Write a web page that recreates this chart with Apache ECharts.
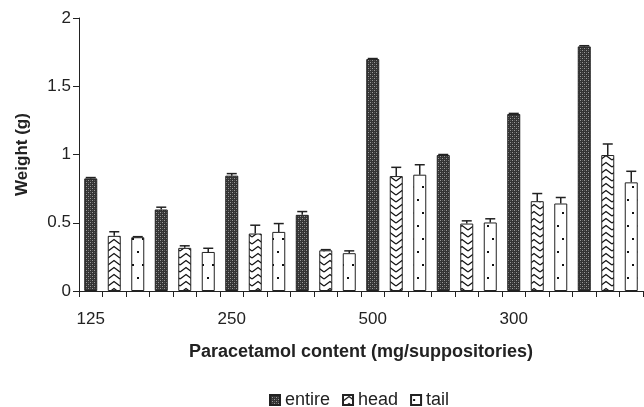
<!DOCTYPE html>
<html lang="en">
<head>
    <meta charset="UTF-8">
    <title>Paracetamol suppositories weight</title>
    <script src="https://cdn.jsdelivr.net/npm/echarts@6/dist/echarts.min.js"></script>
    <style>
        body { margin: 0; background: #fff; }
        #main { width: 644px; height: 407px; }
    </style>
</head>
<body>
    <div id="main"></div>
</body>
<script>
    // 8 groups of entire / head / tail, one category slot per bar
    let tickLabels = ['125', '250', '500', '300'];
    let labelSlots = [0, 6, 12, 18];
    let entire = [0.825, 0.597, 0.845, 0.558, 1.699, 0.996, 1.297, 1.792];
    let head = [0.404, 0.316, 0.421, 0.298, 0.842, 0.494, 0.658, 0.996];
    let tail = [0.394, 0.286, 0.433, 0.277, 0.852, 0.502, 0.641, 0.796];
    let entireErr = [0.006, 0.017, 0.015, 0.024, 0.004, 0.004, 0.004, 0.005];
    let headErr = [0.03, 0.015, 0.061, 0.005, 0.064, 0.02, 0.056, 0.081];
    let tailErr = [0.004, 0.027, 0.061, 0.017, 0.073, 0.027, 0.044, 0.081];

    let slots = entire.length * 3;
    let categories = [];
    for (let i = 0; i < slots; i++) {
        let k = labelSlots.indexOf(i);
        categories.push(k >= 0 ? tickLabels[k] : '');
    }

    // spread a group array over the 24 slots
    function spread(arr, offset) {
        let out = [];
        for (let i = 0; i < slots; i++) out.push('-');
        arr.forEach(function (v, g) { out[g * 3 + offset] = v; });
        return out;
    }

    let errData = [];
    [[entire, entireErr], [head, headErr], [tail, tailErr]].forEach(function (pair, off) {
        pair[0].forEach(function (v, g) {
            errData.push([g * 3 + off, v, v + pair[1][g]]);
        });
    });

    // fill patterns
    function makeCanvas(w, h, draw) {
        let c = document.createElement('canvas');
        c.width = w;
        c.height = h;
        let ctx = c.getContext('2d');
        ctx.fillStyle = '#fff';
        ctx.fillRect(0, 0, w, h);
        draw(ctx);
        return c;
    }
    let entirePat = makeCanvas(4, 4, function (ctx) {
        ctx.fillStyle = '#333';
        ctx.fillRect(0, 0, 4, 4);
        ctx.fillStyle = '#9a9a9a';
        ctx.fillRect(0, 0, 1, 1);
        ctx.fillRect(2, 2, 1, 1);
        ctx.fillStyle = '#5a5a5a';
        ctx.fillRect(2, 0, 1, 1);
        ctx.fillRect(0, 2, 1, 1);
    });
    let headPat = makeCanvas(12, 7, function (ctx) {
        ctx.strokeStyle = '#111';
        ctx.lineWidth = 1.3;
        ctx.beginPath();
        ctx.moveTo(0, 6);
        ctx.lineTo(6, 1.5);
        ctx.lineTo(12, 6);
        ctx.stroke();
    });
    let tailPat = makeCanvas(10, 26, function (ctx) {
        ctx.fillStyle = '#111';
        ctx.fillRect(2, 4, 2, 2);
        ctx.fillRect(7, 17, 2, 2);
    });

    let font = 'Liberation Sans, Arial, sans-serif';

    function barSeries(name, data, pat) {
        return {
            name: name,
            type: 'bar',
            data: data,
            barWidth: 13,
            barGap: '-100%',
            itemStyle: {
                color: { image: pat, repeat: 'repeat' },
                borderColor: '#222',
                borderWidth: 1
            },
            emphasis: { disabled: true }
        };
    }

    let chart = echarts.init(document.getElementById('main'), null, { renderer: 'canvas' });
    let option = {
        animation: false,
        grid: { left: 79, right: 1, top: 18, bottom: 116 },
        legend: {
            top: 391,
            left: 269,
            padding: 0,
            itemWidth: 10,
            itemHeight: 10,
            itemGap: 12,
            icon: 'rect',
            textStyle: { fontFamily: font, fontSize: 18, color: '#222' },
            data: ['entire', 'head', 'tail']
        },
        xAxis: {
            type: 'category',
            data: categories,
            boundaryGap: true,
            name: 'Paracetamol content (mg/suppositories)',
            nameLocation: 'middle',
            nameGap: 52,
            nameTextStyle: { fontFamily: font, fontSize: 18, fontWeight: 'bold', color: '#222' },
            axisLine: { lineStyle: { color: '#222', width: 1 } },
            axisTick: { show: true, interval: 0, length: 6, lineStyle: { color: '#222' } },
            axisLabel: { interval: 0, margin: 20, fontFamily: font, fontSize: 17, color: '#222' },
            splitLine: { show: false }
        },
        yAxis: {
            type: 'value',
            min: 0,
            max: 2,
            interval: 0.5,
            name: 'Weight (g)',
            nameLocation: 'middle',
            nameGap: 48,
            nameTextStyle: { fontFamily: font, fontSize: 17, fontWeight: 'bold', color: '#222' },
            axisLine: { show: true, lineStyle: { color: '#222', width: 1 } },
            axisTick: { show: true, length: 6, lineStyle: { color: '#222' } },
            axisLabel: { margin: 8, fontFamily: font, fontSize: 17, color: '#222' },
            splitLine: { show: false }
        },
        series: [
            barSeries('entire', spread(entire, 0), entirePat),
            barSeries('head', spread(head, 1), headPat),
            barSeries('tail', spread(tail, 2), tailPat),
            {
                type: 'custom',
                name: 'err',
                data: errData,
                z: 5,
                renderItem: function (params, api) {
                    let lo = api.coord([api.value(0), api.value(1)]);
                    let hi = api.coord([api.value(0), api.value(2)]);
                    let half = 5;
                    let st = { stroke: '#222', lineWidth: 1.5 };
                    return {
                        type: 'group',
                        children: [
                            { type: 'line', shape: { x1: lo[0], y1: lo[1], x2: hi[0], y2: hi[1] }, style: st },
                            { type: 'line', shape: { x1: hi[0] - half, y1: hi[1], x2: hi[0] + half, y2: hi[1] }, style: st }
                        ]
                    };
                }
            }
        ]
    };
    chart.setOption(option);
</script>
</html>
